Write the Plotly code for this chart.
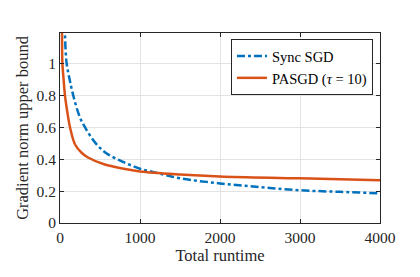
import plotly.graph_objects as go

sync_t = [55, 62, 83, 120, 165, 250, 312, 400, 500, 600, 780, 1000, 1200, 1500, 2000, 2500, 3000, 3500, 4000]
sync_v = [1.35, 1.18, 1.0, 0.9, 0.8, 0.66, 0.6, 0.53, 0.47, 0.43, 0.385, 0.34, 0.315, 0.28, 0.248, 0.225, 0.205, 0.195, 0.186]

pasgd_t = [20, 25, 30, 45, 62, 90, 125, 190, 270, 350, 560, 800, 1000, 1500, 2000, 3000, 4000]
pasgd_v = [1.4, 1.19, 1.0, 0.9, 0.8, 0.7, 0.6, 0.49, 0.44, 0.41, 0.366, 0.34, 0.323, 0.304, 0.292, 0.28, 0.267]

x_ticks = [0, 1000, 2000, 3000, 4000]
y_ticks = [0, 0.2, 0.4, 0.6, 0.8, 1]
y_labels = ["0", "0.2", "0.4", "0.6", "0.8", "1"]

SERIF = "Liberation Serif"

fig = go.Figure()
fig.add_trace(go.Scatter(x=sync_t, y=sync_v, mode="lines", name="Sync SGD",
                         line=dict(color="#0072BD", width=2.5, dash="8px,3px,3px,3px", shape="spline")))
fig.add_trace(go.Scatter(x=pasgd_t, y=pasgd_v, mode="lines", name="PASGD (<i>τ</i> = 10)",
                         line=dict(color="#D95319", width=2.5, shape="spline")))

axis_common = dict(showgrid=True, gridcolor="#e3e3e3", gridwidth=1, showline=True,
                   linecolor="#262626", linewidth=1, mirror="ticks", ticks="inside",
                   ticklen=4, tickcolor="#262626", zeroline=False,
                   tickfont=dict(family=SERIF, size=15.5, color="#262626"))

fig.update_layout(
    width=412, height=269,
    margin=dict(l=52, r=40, t=25, b=54),
    plot_bgcolor="white", paper_bgcolor="white",
    font=dict(family=SERIF, color="#262626"),
    xaxis=dict(range=[0, 4000], tickvals=x_ticks,
               title=dict(text="Total runtime", font=dict(size=16.5, family=SERIF), standoff=2),
               **axis_common),
    yaxis=dict(range=[0, 1.19], tickvals=y_ticks, ticktext=y_labels,
               title=dict(text="Gradient norm upper bound", font=dict(size=16.5, family=SERIF), standoff=3),
               **axis_common),
    legend=dict(x=0.978, y=0.968, xanchor="right", yanchor="top",
                bgcolor="white", bordercolor="#262626", borderwidth=1,
                font=dict(family=SERIF, size=14.5, color="#000000"),
                tracegroupgap=0, itemwidth=30),
    showlegend=True,
)

fig.write_html("out.html")
